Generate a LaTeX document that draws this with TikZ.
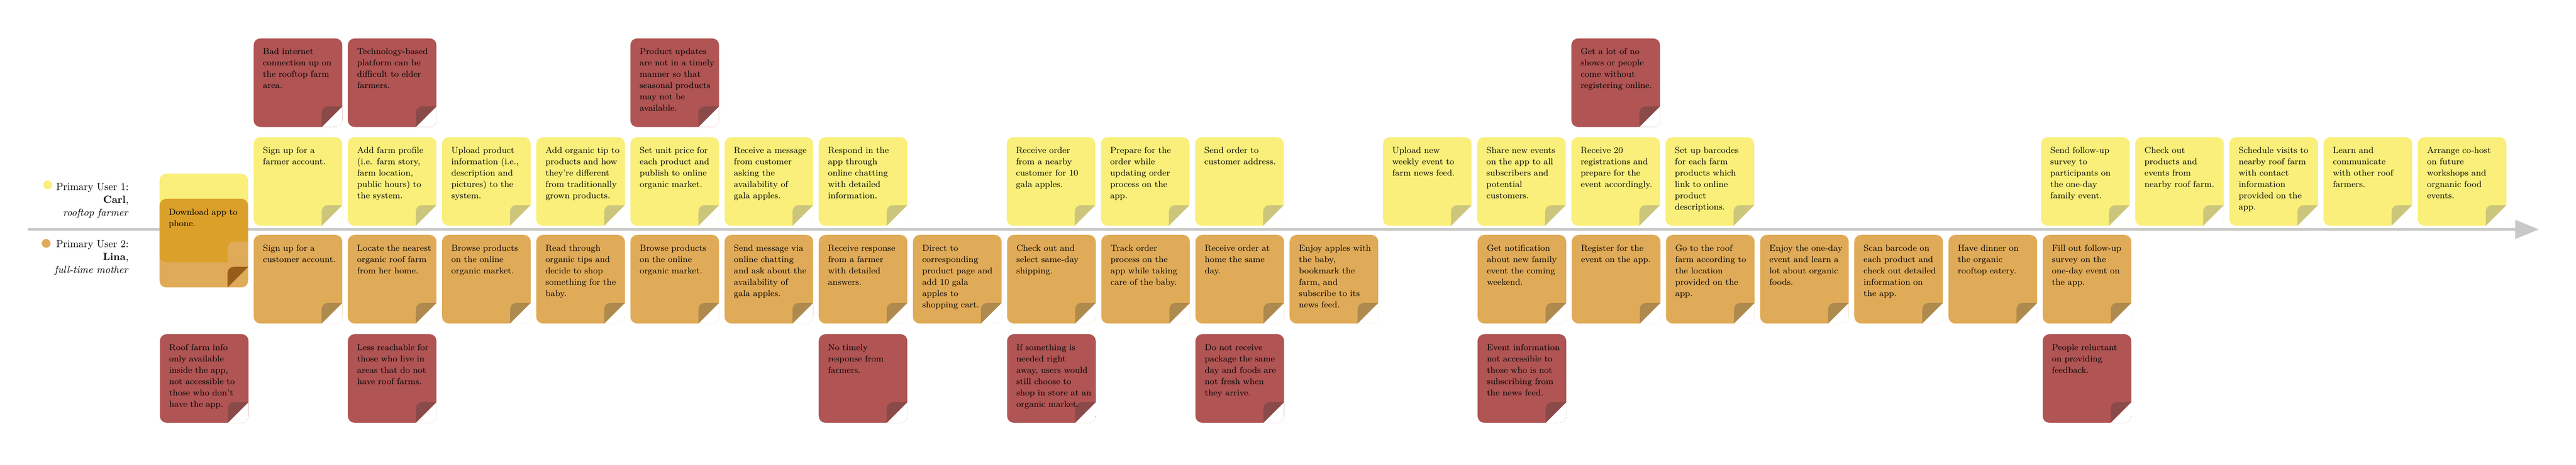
\documentclass[tikz,border=0pt]{standalone}
\usetikzlibrary{arrows.meta, positioning}

\definecolor{farmyellow}{RGB}{249,239,122}
\definecolor{farmfold}{RGB}{204,198,124}
\definecolor{momorange}{RGB}{224,171,88}
\definecolor{momfold}{RGB}{174,138,78}
\definecolor{painred}{RGB}{176,84,84}
\definecolor{painfold}{RGB}{139,74,74}
\definecolor{linegray}{RGB}{200,200,200}

\begin{document}
\begin{tikzpicture}[
    node distance=5pt,
    paper/.style 2 args={rectangle, rounded corners=6.5pt, fill=#1,
        minimum width=86pt, minimum height=86pt, text width=68pt,
        inner xsep=9pt, inner ysep=0pt, text height=15.5pt, text depth=70.5pt,
        align=left, font=\fontsize{8.4}{11}\selectfont,
        execute at begin node={\rightskip=-14pt plus 2em\hyphenpenalty=10000\exhyphenpenalty=10000\relax},
        path picture={
            \fill[white, sharp corners] ([xshift=-20pt]path picture bounding box.south east)
                -- (path picture bounding box.south east)
                -- ([yshift=20pt]path picture bounding box.south east) -- cycle;
            \fill[#2, sharp corners] ([xshift=-20pt]path picture bounding box.south east)
                -- ([shift={(-20pt,14pt)}]path picture bounding box.south east)
                arc[start angle=180, end angle=90, radius=6pt]
                -- ([yshift=20pt]path picture bounding box.south east) -- cycle;
        }},
    farmer/.style={paper={farmyellow}{farmfold}},
    mother/.style={paper={momorange}{momfold}},
    pain/.style={paper={painred}{painfold}},
    persona/.style={align=right, anchor=north east, inner sep=0pt, font=\fontsize{10}{12.5}\selectfont},
    dot/.style={circle, inner sep=0pt, minimum size=8.5pt},
    timeline/.style={-{Triangle[length=23pt, width=18pt]}, line width=2.5pt, draw=linegray}
]
\useasboundingbox (0,0) rectangle (2500pt,-451pt);

% Timeline
\coordinate (tl start) at (27pt,-222.75pt);
\coordinate (tl end) at (2464pt,-222.75pt);
\draw[timeline] (tl start) -- (tl end);

% Personas
\node[persona] (user1) at (125pt,-177.6pt) {Primary User 1:\\ \textbf{Carl},\\ \textit{rooftop farmer}};
\node[dot, fill=farmyellow, left=3.5pt of user1.north west, yshift=-1.9pt] (dot1) {};
\node[persona] (user2) at (125pt,-233.2pt) {Primary User 2:\\ \textbf{Lina},\\ \textit{full-time mother}};
\node[dot, fill=momorange, left=3.5pt of user2.north west, yshift=-3.1pt] (dot2) {};

% Farmer actions
\node[farmer, anchor=north west] (f1) at (246pt,-133pt) {Sign up for a\\ farmer account.};
\node[farmer, right=of f1] (f2) {Add farm profile\\ (i.e. farm story,\\ farm location,\\ public hours) to\\ the system.};
\node[farmer, right=of f2] (f3) {Upload product\\ information (i.e.,\\ description and\\ pictures) to the\\ system.};
\node[farmer, right=of f3] (f4) {Add organic tip to\\ products and how\\ they’re different\\ from traditionally\\ grown products.};
\node[farmer, right=of f4] (f5) {Set unit price for\\ each product and\\ publish to online\\ organic market.};
\node[farmer, right=of f5] (f6) {Receive a message\\ from customer\\ asking the\\ availability of\\ gala apples.};
\node[farmer, right=of f6] (f7) {Respond in the\\ app through\\ online chatting\\ with detailed\\ information.};
\node[farmer, right=96pt of f7] (f9) {Receive order\\ from a nearby\\ customer for 10\\ gala apples.};
\node[farmer, right=of f9] (f10) {Prepare for the\\ order while\\ updating order\\ process on the\\ app.};
\node[farmer, right=of f10] (f11) {Send order to\\ customer address.};
\node[farmer, right=96pt of f11] (f13) {Upload new\\ weekly event to\\ farm news feed.};
\node[farmer, right=of f13] (f14) {Share new events\\ on the app to all\\ subscribers and\\ potential\\ customers.};
\node[farmer, right=of f14] (f15) {Receive 20\\ registrations and\\ prepare for the\\ event accordingly.};
\node[farmer, right=of f15] (f16) {Set up barcodes\\ for each farm\\ products which\\ link to online\\ product\\ descriptions.};
\node[farmer, right=278pt of f16] (f20) {Send follow-up\\ survey to\\ participants on\\ the one-day\\ family event.};
\node[farmer, right=of f20] (f21) {Check out\\ products and\\ events from\\ nearby roof farm.};
\node[farmer, right=of f21] (f22) {Schedule visits to\\ nearby roof farm\\ with contact\\ information\\ provided on the\\ app.};
\node[farmer, right=of f22] (f23) {Learn and\\ communicate\\ with other roof\\ farmers.};
\node[farmer, right=of f23] (f24) {Arrange co-host\\ on future\\ workshops and\\ orgnanic food\\ events.};
\node[paper={farmyellow}{white}, left=of f1, yshift=-35.5pt] (f0) {};

% Farmer pain points
\node[pain, above=9.5pt of f1] (t1) {Bad internet\\ connection up on\\ the rooftop farm\\ area.};
\node[pain, above=9.5pt of f2] (t2) {Technology-based\\ platform can be\\ difficult to elder\\ farmers.};
\node[pain, above=9.5pt of f5] (t5) {Product updates\\ are not in a timely\\ manner so that\\ seasonal products\\ may not be\\ available.};
\node[pain, above=9.5pt of f15] (t15) {Get a lot of no\\ shows or people\\ come without\\ registering online.};

% Mother actions
\node[mother, below=8.5pt of f1] (m1) {Sign up for a\\ customer account.};
\node[mother, right=of m1] (m2) {Locate the nearest\\ organic roof farm\\ from her home.};
\node[mother, right=of m2] (m3) {Browse products\\ on the online\\ organic market.};
\node[mother, right=of m3] (m4) {Read through\\ organic tips and\\ decide to shop\\ something for the\\ baby.};
\node[mother, right=of m4] (m5) {Browse products\\ on the online\\ organic market.};
\node[mother, right=of m5] (m6) {Send message via\\ online chatting\\ and ask about the\\ availability of\\ gala apples.};
\node[mother, right=of m6] (m7) {Receive response\\ from a farmer\\ with detailed\\ answers.};
\node[mother, right=of m7] (m8) {Direct to\\ corresponding\\ product page and\\ add 10 gala\\ apples to\\ shopping cart.};
\node[mother, right=of m8] (m9) {Check out and\\ select same-day\\ shipping.};
\node[mother, right=of m9] (m10) {Track order\\ process on the\\ app while taking\\ care of the baby.};
\node[mother, right=of m10] (m11) {Receive order at\\ home the same\\ day.};
\node[mother, right=of m11] (m12) {Enjoy apples with\\ the baby,\\ bookmark the\\ farm, and\\ subscribe to its\\ news feed.};
\node[mother, right=96pt of m12] (m14) {Get notification\\ about new family\\ event the coming\\ weekend.};
\node[mother, right=of m14] (m15) {Register for the\\ event on the app.};
\node[mother, right=of m15] (m16) {Go to the roof\\ farm according to\\ the location\\ provided on the\\ app.};
\node[mother, right=of m16] (m17) {Enjoy the one-day\\ event and learn a\\ lot about organic\\ foods.};
\node[mother, right=of m17] (m18) {Scan barcode on\\ each product and\\ check out detailed\\ information on\\ the app.};
\node[mother, right=of m18] (m19) {Have dinner on\\ the organic\\ rooftop eatery.};
\node[mother, right=of m19] (m20) {Fill out follow-up\\ survey on the\\ one-day event on\\ the app.};
\begin{scope}[blend mode=multiply]
\node[mother, left=of m1, yshift=35pt] (m0) {Download app to\\ phone.};
\end{scope}

% Mother pain points
\node[pain, below=10pt of m2] (b2) {Less reachable for\\ those who live in\\ areas that do not\\ have roof farms.};
\node[pain, left=96pt of b2] (b0) {Roof farm info\\ only available\\ inside the app,\\ not accessible to\\ those who don’t\\ have the app.};
\node[pain, below=10pt of m7] (b7) {No timely\\ response from\\ farmers.};
\node[pain, below=10pt of m9] (b9) {If something is\\ needed right\\ away, users would\\ still choose to\\ shop in store at an\\ organic market.};
\node[pain, below=10pt of m11] (b11) {Do not receive\\ package the same\\ day and foods are\\ not fresh when\\ they arrive.};
\node[pain, below=10pt of m14] (b14) {Event information\\ not accessible to\\ those who is not\\ subscribing from\\ the news feed.};
\node[pain, below=10pt of m20] (b20) {People reluctant\\ on providing\\ feedback.};

\end{tikzpicture}
\end{document}
